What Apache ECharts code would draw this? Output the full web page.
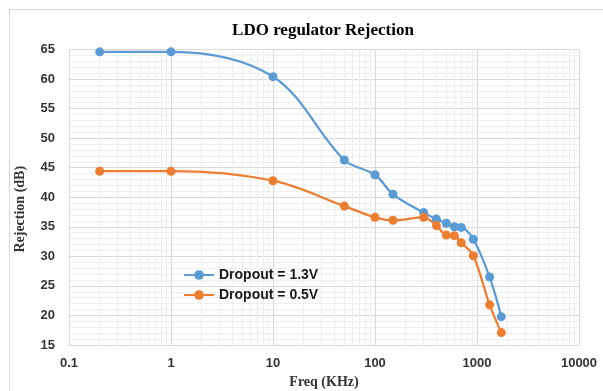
<!DOCTYPE html>
<html>
<head>
<meta charset="utf-8">
<title>LDO regulator Rejection</title>
<script src="https://cdn.jsdelivr.net/npm/echarts@6/dist/echarts.min.js"></script>
<style>
  html, body { margin: 0; padding: 0; background: #ffffff; }
  #chart { width: 603px; height: 391px; }
</style>
</head>
<body>
<div id="chart"></div>
<script>
// Rejection measurements (dB) against frequency (KHz)
const freqHigh = [0.2, 1, 10, 50, 100, 150, 300, 400, 500, 600, 700, 920, 1330, 1730];
const rejHigh  = [64.6, 64.6, 60.4, 46.3, 43.8, 40.5, 37.4, 36.3, 35.6, 35.0, 34.9, 32.9, 26.5, 19.8];

const freqLow = [0.2, 1, 10, 50, 100, 150, 300, 400, 500, 600, 700, 920, 1330, 1730];
const rejLow  = [44.4, 44.4, 42.8, 38.5, 36.6, 36.1, 36.6, 35.2, 33.6, 33.5, 32.3, 30.1, 21.8, 17.1];

const seriesNames = ['Dropout = 1.3V', 'Dropout = 0.5V'];
const xTicks = [0.1, 1, 10, 100, 1000, 10000];

// minor vertical grid: 2..9 within each decade of the log axis
const minorX = [];
for (let d = 0; d < xTicks.length - 1; d++) {
  for (let m = 2; m <= 9; m++) minorX.push({ xAxis: +(xTicks[d] * m).toPrecision(3) });
}

const chart = echarts.init(document.getElementById('chart'), null, { renderer: 'canvas' });

const labelFont = { fontFamily: 'Liberation Sans', fontWeight: 'bold', fontSize: 13, color: '#333333' };
const nameFont = { fontFamily: 'Liberation Serif', fontWeight: 'bold', fontSize: 14, color: '#333333' };

chart.setOption({
  animation: false,
  backgroundColor: '#ffffff',
  title: {
    text: 'LDO regulator Rejection',
    left: 318, top: 17, textAlign: 'center',
    textStyle: { fontFamily: 'Liberation Serif', fontWeight: 'bold', fontSize: 17, color: '#000000' }
  },
  graphic: [{
    type: 'rect', left: 7, top: 7, z: -1, silent: true,
    shape: { width: 700, height: 500 },
    style: { fill: 'none', stroke: '#d9d9d9', lineWidth: 1 }
  }],
  grid: { left: 69, right: 24, top: 49.5, bottom: 46, containLabel: false, outerBoundsMode: 'none' },
  legend: {
    orient: 'vertical', left: 178, top: 263, itemGap: 6,
    itemWidth: 30, itemHeight: 12, zlevel: 1,
    data: seriesNames,
    textStyle: { fontFamily: 'Liberation Sans', fontWeight: 'bold', fontSize: 14, color: '#1a1a1a' }
  },
  xAxis: {
    type: 'log', logBase: 10, min: 0.1, max: 10000,
    name: 'Freq (KHz)', nameLocation: 'middle', nameGap: 30, nameTextStyle: nameFont,
    axisLine: { show: true, lineStyle: { color: '#d9d9d9' } },
    axisTick: { show: false },
    axisLabel: Object.assign({ margin: 12, formatter: v => String(+v.toPrecision(6)) }, labelFont),
    splitLine: { show: true, lineStyle: { color: '#d9d9d9', width: 1 } }
  },
  yAxis: {
    type: 'value', min: 15, max: 65, interval: 5,
    name: 'Rejection (dB)', nameLocation: 'middle', nameGap: 42,
    nameTextStyle: Object.assign({ padding: [0, 24, 0, 0] }, nameFont),
    axisLine: { show: true, lineStyle: { color: '#d9d9d9' } },
    axisTick: { show: false },
    axisLabel: Object.assign({ margin: 14 }, labelFont),
    splitLine: { show: true, lineStyle: { color: '#d9d9d9', width: 1 } },
    minorTick: { show: false, splitNumber: 5 },
    minorSplitLine: { show: true, lineStyle: { color: '#efefef', width: 1 } }
  },
  series: [
    {
      name: 'grid-minor', type: 'line', data: [], z: 0, zlevel: 0, silent: true,
      markLine: {
        silent: true, symbol: ['none', 'none'], label: { show: false },
        lineStyle: { type: 'solid', color: '#eeeeee', width: 1 },
        data: minorX
      }
    },
    {
      name: seriesNames[0], type: 'line', zlevel: 1,
      data: freqHigh.map((f, i) => [f, rejHigh[i]]),
      smooth: 0.35, symbol: 'circle', symbolSize: 9,
      itemStyle: { color: '#5b9bd5' },
      lineStyle: { color: '#5b9bd5', width: 2.25 }
    },
    {
      name: seriesNames[1], type: 'line', zlevel: 1,
      data: freqLow.map((f, i) => [f, rejLow[i]]),
      smooth: 0.35, symbol: 'circle', symbolSize: 9,
      itemStyle: { color: '#ed7d31' },
      lineStyle: { color: '#ed7d31', width: 2.25 }
    }
  ]
});
</script>
</body>
</html>
